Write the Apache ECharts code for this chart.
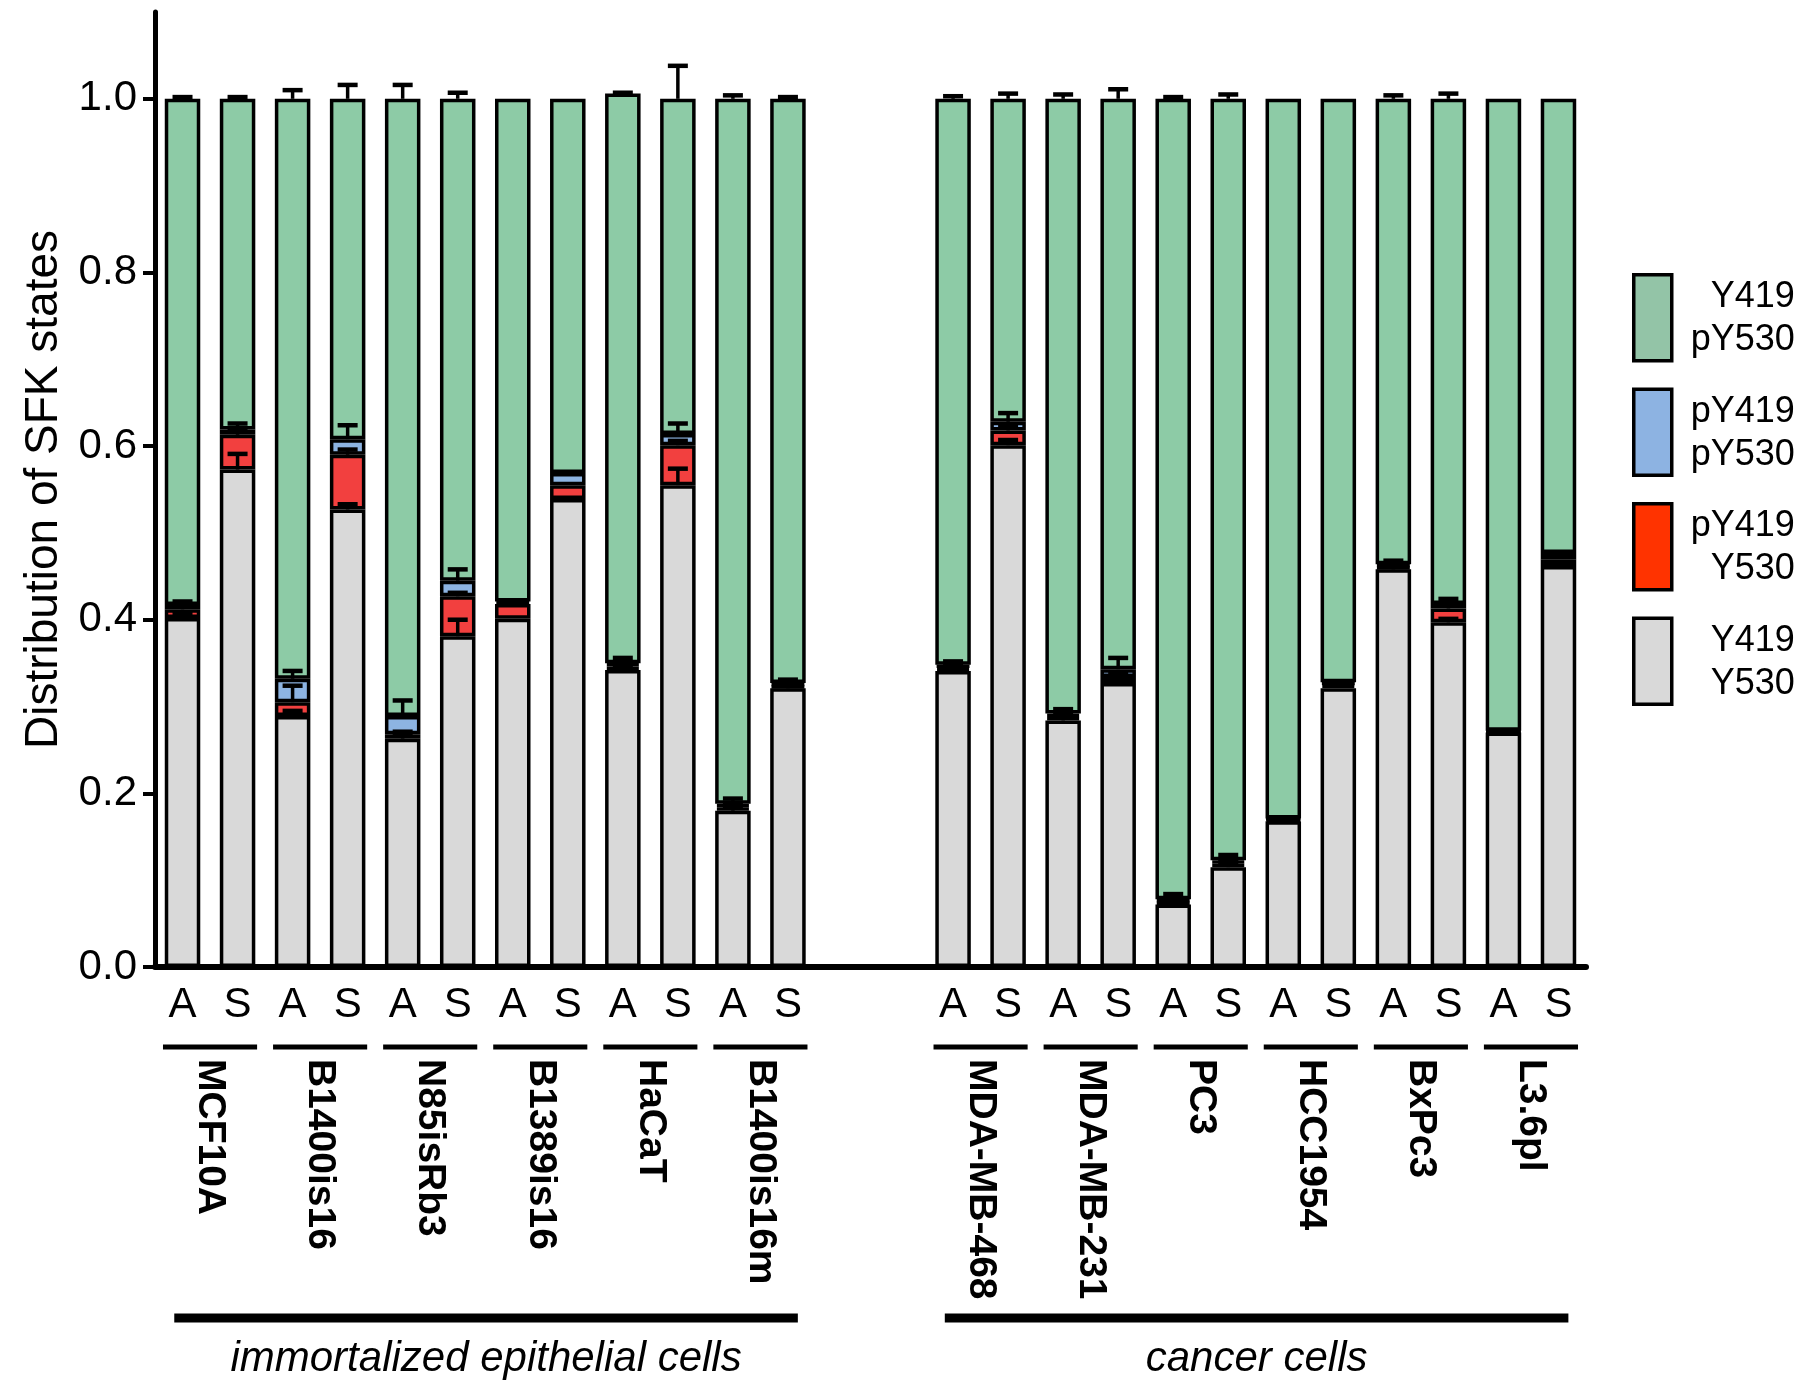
<!DOCTYPE html>
<html><head><meta charset="utf-8">
<script src="https://cdn.jsdelivr.net/npm/echarts@6/dist/echarts.min.js"></script>
<style>html,body{margin:0;padding:0;background:#fff}#c{width:1800px;height:1384px}</style>
</head><body><div id="c"></div>
<script>
// ---- data ----
const categories = ['A','S','A','S','A','S','A','S','A','S','A','S','','','A','S','A','S','A','S','A','S','A','S','A','S'];
const cellLines = ['MCF10A','B1400is16','N85isRb3','B1389is16','HaCaT','B1400is16m','MDA-MB-468','MDA-MB-231','PC3','HCC1954','BxPc3','L3.6pl'];
const cellLineStart = [0,2,4,6,8,10,14,16,18,20,22,24];
const groups = ['immortalized epithelial cells','cancer cells'];
const groupStart = [0,14];
const groupEnd = [11,25];
const yTicks = [0,0.2,0.4,0.6,0.8,1.0];
const seriesNames = ['Y419/Y530','pY419/Y530','pY419/pY530','Y419/pY530'];

const grayVals  = [0.402,0.573,0.289,0.527,0.263,0.381,0.401,0.539,0.342,0.555,0.180,0.321,null,null,
                   0.341,0.601,0.284,0.327,0.072,0.115,0.168,0.321,0.458,0.397,0.270,0.462];
const redVals   = [0.010,0.040,0.016,0.063,0.005,0.046,0.017,0.016,0.004,0.046,0.004,0.003,null,null,
                   0.004,0.017,0.004,0.007,0.003,0.004,0.002,0.004,0.003,0.016,0.001,0.007];
const blueVals  = [0.005,0.006,0.027,0.018,0.021,0.018,0.003,0.014,0.004,0.013,0.004,0.003,null,null,
                   0.003,0.010,0.004,0.009,0.003,0.004,0.001,0.003,0.003,0.005,0.001,0.008];
const greenVals = [0.583,0.381,0.668,0.392,0.711,0.555,0.579,0.431,0.656,0.386,0.812,0.673,null,null,
                   0.652,0.372,0.708,0.657,0.922,0.877,0.829,0.672,0.536,0.582,0.728,0.523];

const grayErr  = [0.006,0.018,0.006,0.006,0.005,0.019,0,0,0.005,0.019,0.005,0.004,null,null,
                  0.004,0.006,0.005,0.004,0.004,0.005,0,0,0.003,0.004,0,0];
const redErr   = [0.004,0.005,0.019,0.006,0.003,0.004,0,0,0.004,0.005,0.003,0.003,null,null,
                  0.003,0.004,0.003,0.004,0.003,0.003,0,0,0.002,0.004,0,0];
const blueErr  = [0.004,0.007,0.009,0.016,0.018,0.013,0,0,0.006,0.012,0.006,0.004,null,null,
                  0.004,0.010,0.005,0.013,0.006,0.006,0,0,0.004,0.006,0,0];
const greenErr = [0.002,0.002,0.010,0.016,0.016,0.007,0,0,0.001,0.038,0.004,0.002,null,null,
                  0.003,0.006,0.005,0.011,0.002,0.005,0,0,0.004,0.006,0,0];

// ---- styles ----
const FONT = "'Liberation Sans', Arial, Helvetica, sans-serif";
const barColors = ['#D9D9D9','#F2403F','#8DB4E2','#8DCBA6'];
const legendColors = ['#D9D9D9','#FF3300','#8DB3E2','#93C4A7'];

const segVals = [grayVals, redVals, blueVals, greenVals];
const segErrs = [grayErr, redErr, blueErr, greenErr];

// error bar data: [category, segment top, segment top + err]
const errData = [];
for (let i = 0; i < categories.length; i++) {
  if (grayVals[i] == null) continue;
  let cum = 0;
  for (let s = 0; s < 4; s++) {
    cum += segVals[s][i];
    const e = segErrs[s][i];
    if (e > 0) errData.push([i, cum, cum + e]);
  }
}

// annotation data: [startCat, endCat, kind, index, 0]
const annData = [];
cellLines.forEach((n, i) => annData.push([cellLineStart[i], cellLineStart[i] + 1, 0, i, 0]));
groups.forEach((n, i) => annData.push([groupStart[i], groupEnd[i], 1, i, 0]));

const chart = echarts.init(document.getElementById('c'), null, {renderer: 'canvas'});

const barSeries = seriesNames.map((name, s) => ({
  name: name,
  type: 'bar',
  stack: 'total',
  barWidth: 35.5,
  data: segVals[s],
  itemStyle: {color: barColors[s], borderColor: '#000', borderWidth: 3.5},
  emphasis: {disabled: true},
  z: 2
}));

const option = {
  animation: false,
  backgroundColor: '#fff',
  grid: {left: 155, right: 214, top: 12, bottom: 417, containLabel: false, outerBoundsMode: 'none'},
  legend: {
    orient: 'vertical', left: 1632, top: 273, padding: 0,
    itemWidth: 38, itemHeight: 86, itemGap: 25, icon: 'rect',
    selectedMode: false,
    itemStyle: {borderColor: '#000', borderWidth: 3.5},
    data: [3,2,1,0].map(s => ({name: seriesNames[s], itemStyle: {color: legendColors[s], borderColor: '#000', borderWidth: 3.5}})),
    formatter: name => name.split('/').map(p => '{t|' + p + '}').join('\n'),
    textStyle: {
      rich: {t: {width: 118, align: 'right', fontSize: 36, lineHeight: 43, padding: [2, 0, 0, 0], fontFamily: FONT, color: '#000'}}
    }
  },
  xAxis: {
    type: 'category',
    data: categories,
    axisLine: {lineStyle: {color: '#000', width: 6}},
    axisTick: {show: false},
    axisLabel: {interval: 0, margin: 17, fontSize: 42, fontFamily: FONT, color: '#000'},
    splitLine: {show: false}
  },
  yAxis: {
    type: 'value', min: 0, max: 1.1, interval: 0.2,
    name: 'Distribution of SFK states',
    nameLocation: 'middle', nameGap: 88,
    nameTextStyle: {fontSize: 46, fontFamily: FONT, color: '#000'},
    axisLine: {show: true, lineStyle: {color: '#000', width: 5}},
    axisTick: {show: true, length: 12, lineStyle: {color: '#000', width: 4}, customValues: yTicks},
    axisLabel: {margin: 18, fontSize: 42, fontFamily: FONT, color: '#000', customValues: yTicks,
                formatter: v => Number(v).toFixed(1)},
    splitLine: {show: false}
  },
  series: barSeries.concat([
    {
      type: 'custom',
      name: 'errors',
      z: 5,
      clip: false,
      silent: true,
      encode: {x: 0, y: [1, 2]},
      data: errData,
      renderItem: (params, api) => {
        const c = api.value(0);
        const p0 = api.coord([c, api.value(1)]);
        const p1 = api.coord([c, api.value(2)]);
        const hw = 10;
        return {type: 'group', children: [
          {type: 'line', shape: {x1: p0[0], y1: p0[1], x2: p1[0], y2: p1[1]}, style: {stroke: '#000', lineWidth: 3.5}},
          {type: 'line', shape: {x1: p1[0] - hw, y1: p1[1], x2: p1[0] + hw, y2: p1[1]}, style: {stroke: '#000', lineWidth: 4.5}}
        ]};
      }
    },
    {
      type: 'custom',
      name: 'annotations',
      z: 5,
      clip: false,
      silent: true,
      encode: {x: [0, 1], y: 4},
      data: annData,
      renderItem: (params, api) => {
        const s = api.value(0), e = api.value(1), kind = api.value(2), idx = api.value(3);
        const p0 = api.coord([s, 0]);
        const p1 = api.coord([e, 0]);
        const bw = api.size([1, 0])[0];
        if (kind === 0) {
          const y = p0[1] + 80;
          const cx = (p0[0] + p1[0]) / 2;
          return {type: 'group', children: [
            {type: 'line', shape: {x1: p0[0] - bw * 0.355, y1: y, x2: p1[0] + bw * 0.355, y2: y},
             style: {stroke: '#000', lineWidth: 5}},
            {type: 'text', x: cx, y: p0[1] + 92, rotation: -Math.PI / 2,
             style: {text: cellLines[idx], fontSize: 39, fontWeight: 'bold', fontFamily: FONT,
                     fill: '#000', align: 'left', verticalAlign: 'middle'}}
          ]};
        } else {
          const y = p0[1] + 351;
          const x0 = p0[0] - bw * 0.15, x1 = p1[0] + bw * 0.18;
          return {type: 'group', children: [
            {type: 'line', shape: {x1: x0, y1: y, x2: x1, y2: y},
             style: {stroke: '#000', lineWidth: 9}},
            {type: 'text', x: (x0 + x1) / 2, y: p0[1] + 392,
             style: {text: groups[idx], fontSize: 42, fontStyle: 'italic', fontFamily: FONT,
                     fill: '#000', align: 'center', verticalAlign: 'middle'}}
          ]};
        }
      }
    }
  ])
};
chart.setOption(option);
</script>
</body></html>
